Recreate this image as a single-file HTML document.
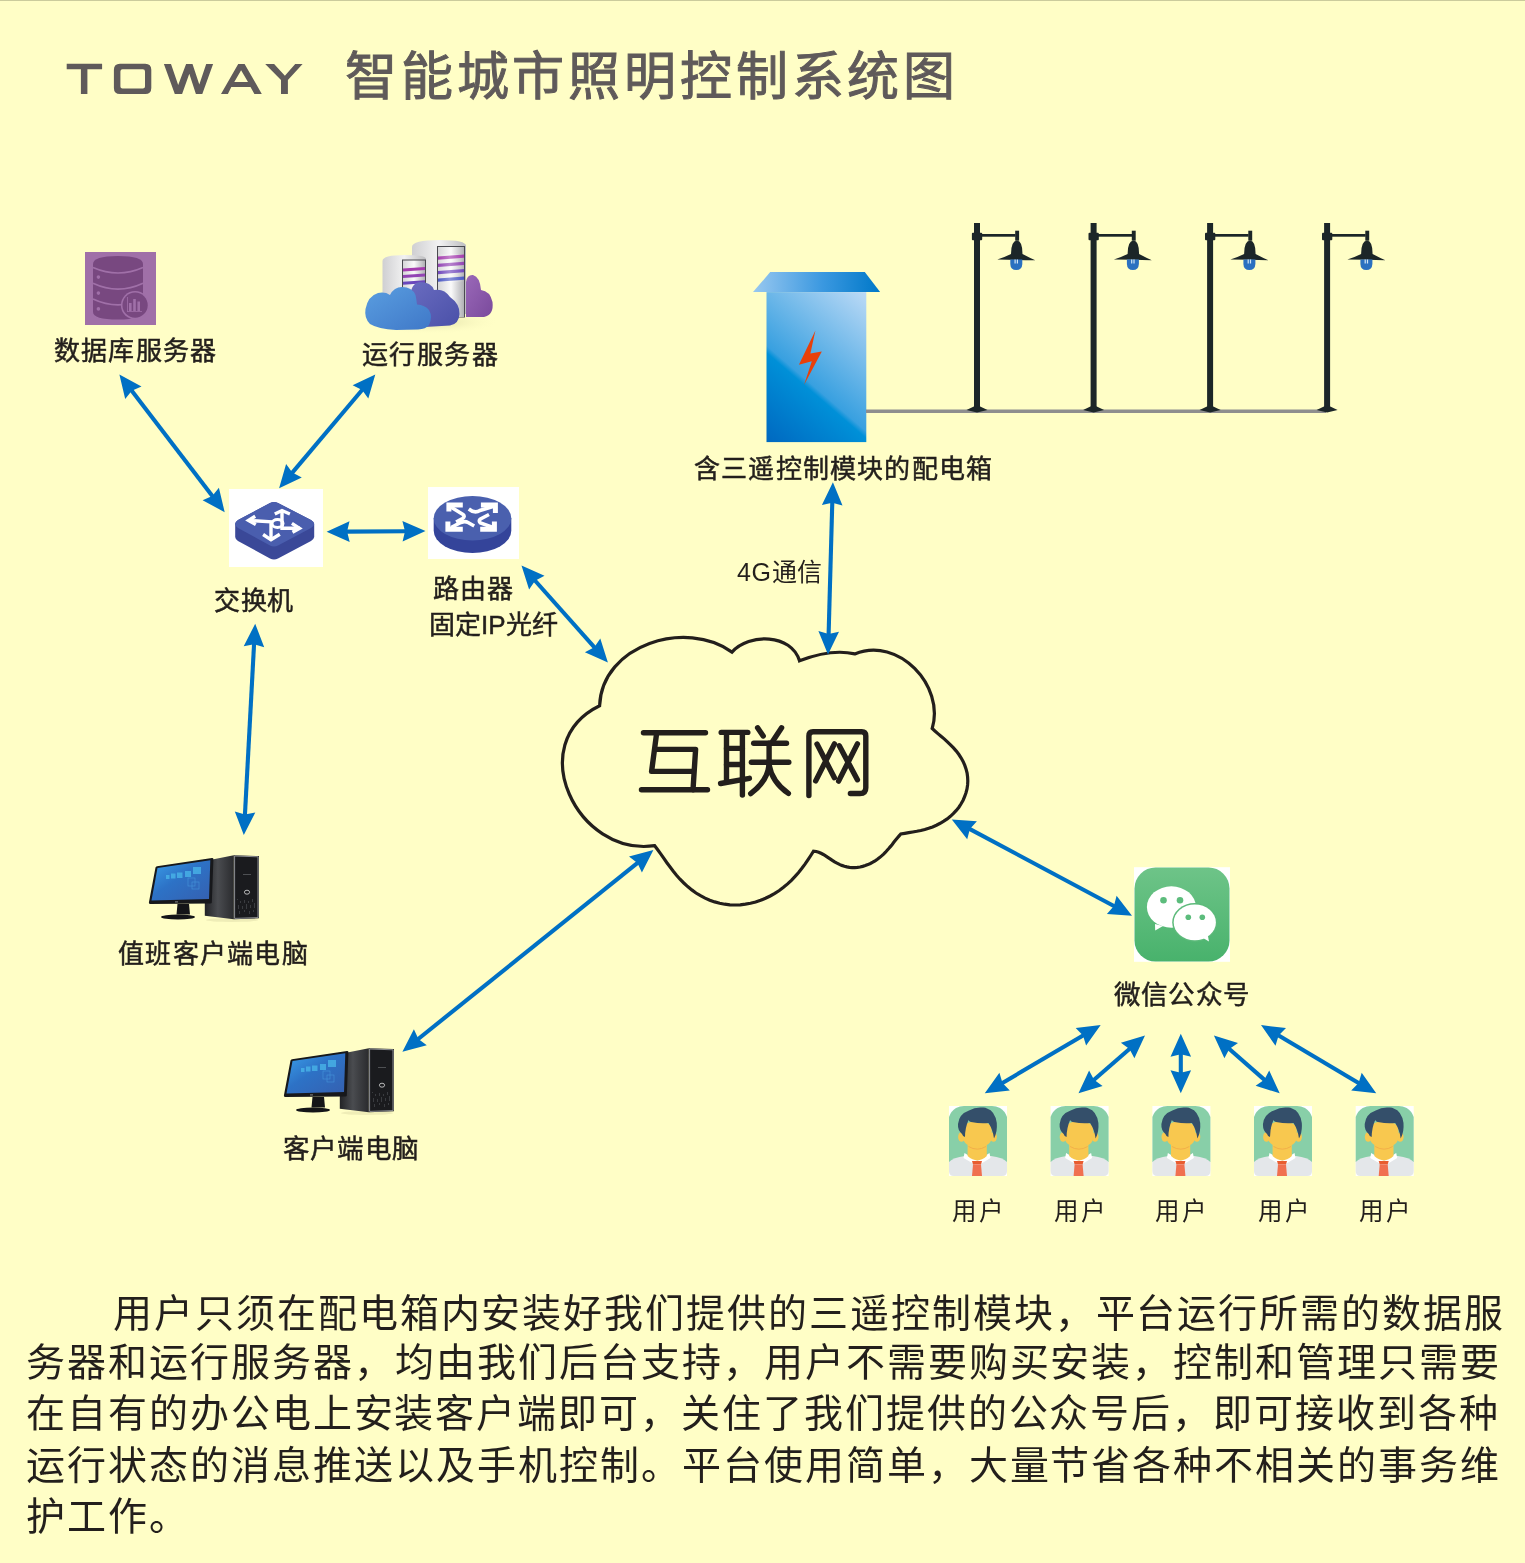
<!DOCTYPE html>
<html lang="zh-CN"><head><meta charset="utf-8"><title>TOWAY 智能城市照明控制系统图</title>
<style>
html,body{margin:0;padding:0;}
body{width:1525px;height:1563px;position:relative;overflow:hidden;background:#fffec6;font-family:"Liberation Sans",sans-serif;color:#231f1c;}
.t{position:absolute;white-space:nowrap;line-height:1;will-change:transform;}
svg{position:absolute;left:0;top:0;}
.topline{position:absolute;left:0;top:0;width:1525px;height:1px;background:#cbcb9c;}
</style></head><body>
<div class="topline"></div>
<svg width="1525" height="1563" viewBox="0 0 1525 1563">

<g fill="none" stroke="#231f1c" stroke-width="5.4" stroke-linecap="round" stroke-linejoin="round">
<path d="M643.5 732.8H705.5"/>
<path d="M656.6 733.5L651.6 771.4H693"/>
<path d="M656.6 749.4H695.6L693 789.8"/>
<path d="M641.5 789.8H707.5"/>
<path d="M721.2 732.4H747.8"/>
<path d="M726.5 734V780.6"/>
<path d="M742.4 734V795"/>
<path d="M726.5 748.4H742.4M726.5 764.5H742.4"/>
<path d="M720.6 783.5L749.4 778.3"/>
<path d="M757.6 727.8L763.2 736"/>
<path d="M781.6 727.8L772.7 741.2"/>
<path d="M753.7 743.2H786.5"/>
<path d="M751.4 762.2H788.8"/>
<path d="M769.1 743.2V762.2Q769 780 750.7 793.7"/>
<path d="M769.1 765Q772 782 788.4 793.4"/>
<path d="M808.9 795.5V736Q808.9 731.8 813 731.8H861.8Q865.8 731.8 865.8 736V787.7Q865.8 793.5 860 793.5H850.4"/>
<path d="M817 744.1L834.4 777.7M834.4 743.9L815.7 780.9"/>
<path d="M839.3 745.7L857.4 779.8M857.4 743.9L838.6 781.1"/>
</g>
<g fill="#5f5a5a">
<path d="M66.7 63.8H102.1V69.3H87.4V93.9H80.9V69.3H66.7Z"/>
<path fill-rule="evenodd" d="M120 63.8H145.2Q151.3 63.8 151.3 69.8V87.9Q151.3 93.9 145.2 93.9H120Q113.9 93.9 113.9 87.9V69.8Q113.9 63.8 120 63.8Z M122.5 69.3Q120.4 69.3 120.4 71.4V86.5Q120.4 88.6 122.5 88.6H142.9Q145 88.6 145 86.5V71.4Q145 69.3 142.9 69.3Z"/>
<path d="M163.9 64H171L178.2 85L186.1 64H192.5L199.3 84.5L206.2 64H213.1L202.3 93.9H195.9L189.3 73.7L182.1 93.9H174.8Z"/>
<path fill-rule="evenodd" d="M238.2 64H244.6L261.8 93.9H254.4L250.5 87H231.3L227.9 93.9H221Z M241.1 70.2L234.3 82H248Z"/>
<path d="M265.2 64H274.1L284.9 75.7L295.2 64H302.6L287.9 80.1V93.9H281V80.1Z"/>
</g>
<g transform="translate(85,252)">
<rect x="0" y="0" width="71" height="73" fill="#a070a8"/>
<g fill="#784880">
<path d="M8 12Q8 4 33 4Q58 4 58 12V60Q58 67.5 33 67.5Q8 67.5 8 60Z"/>
</g>
<g fill="none" stroke="#a070a8" stroke-width="1.6">
<path d="M8 15.5Q33 26.5 58 15.5"/>
<path d="M8 31.3Q33 43 58 31.3"/>
<path d="M8 47Q33 58.8 58 47"/>
</g>
<g fill="#a070a8"><circle cx="13.4" cy="25.1" r="1.8"/><circle cx="13.4" cy="41.1" r="1.8"/><circle cx="13.4" cy="56.9" r="1.8"/></g>
<circle cx="50.1" cy="53.2" r="14.2" fill="#a070a8"/>
<circle cx="50.1" cy="53.2" r="12.6" fill="#784880"/>
<g fill="#a070a8"><rect x="44" y="51" width="2.6" height="8"/><rect x="48.2" y="47" width="2.6" height="12"/><rect x="52.4" y="49.5" width="2.6" height="9.5"/><rect x="42" y="45" width="0.8" height="15"/><rect x="42" y="59.2" width="15" height="0.8"/></g>
</g>
<g>
<defs>
<linearGradient id="srvside" x1="0" x2="1" y1="0" y2="0"><stop offset="0" stop-color="#cfcfd2"/><stop offset="0.5" stop-color="#f2f2f2"/><stop offset="1" stop-color="#bdbdc0"/></linearGradient>
<linearGradient id="srvfront" x1="0" x2="1" y1="0" y2="0"><stop offset="0" stop-color="#d6d6d8"/><stop offset="0.5" stop-color="#fafafa"/><stop offset="1" stop-color="#b0b0b4"/></linearGradient>
<linearGradient id="stripehl" x1="0" x2="1"><stop offset="0" stop-color="#fff" stop-opacity="0"/><stop offset="0.45" stop-color="#fff" stop-opacity="0.35"/><stop offset="1" stop-color="#fff" stop-opacity="0"/></linearGradient>
<linearGradient id="cblue" x1="0" x2="1" y1="0" y2="1"><stop offset="0" stop-color="#5a9ee0"/><stop offset="1" stop-color="#3f78c8"/></linearGradient>
<linearGradient id="cindigo" x1="0" x2="1" y1="0" y2="1"><stop offset="0" stop-color="#6a6cc0"/><stop offset="1" stop-color="#4a50a8"/></linearGradient>
<linearGradient id="cpurple" x1="0" x2="1" y1="0" y2="1"><stop offset="0" stop-color="#9a68b8"/><stop offset="1" stop-color="#7a4a9c"/></linearGradient>
<radialGradient id="shadow" cx="0.5" cy="0.5" r="0.5"><stop offset="0" stop-color="#d8d6a0" stop-opacity="0.9"/><stop offset="1" stop-color="#fffec6" stop-opacity="0"/></radialGradient>
</defs>
<ellipse cx="430" cy="322" rx="70" ry="12" fill="url(#shadow)"/>
<!-- big server -->
<path d="M412 247Q412 240 440 240Q466 240 466 246V314Q440 318 412 316Z" fill="url(#srvside)"/>
<rect x="437" y="246" width="28" height="71.5" fill="#4a4a50"/>
<rect x="438" y="247" width="26" height="70" fill="url(#srvfront)"/>
<g><path d="M438 256.5L464 254.5V257.7L438 259.7Z" fill="#a43cae"/><path d="M438 263.8L464 261.8V265L438 267Z" fill="#9244b4"/><path d="M438 271.1L464 269.1V272.3L438 274.3Z" fill="#7048bc"/><path d="M438 278.5L464 276.5V279.7L438 281.7Z" fill="#4a58c4"/><rect x="438" y="254" width="26" height="28" fill="url(#stripehl)"/></g>
<!-- small server -->
<path d="M382.5 261Q382.5 255 405 255Q426 255 426 259V320H382.5Z" fill="url(#srvside)"/>
<rect x="402" y="259.5" width="24" height="61.5" fill="#4a4a50"/>
<rect x="403" y="260.5" width="22" height="60" fill="url(#srvfront)"/>
<g><path d="M403 268.5L425 267V270L403 271.5Z" fill="#a43cae"/><path d="M403 275L425 273.5V276.5L403 278Z" fill="#9244b4"/><path d="M403 281.8L425 280.3V283.3L403 284.8Z" fill="#6a48bc"/></g>
<!-- purple cloud -->
<path d="M466 317V282Q467 274.5 473 275Q480 277 481 290Q490 291 492.5 302Q494 315 484 317Z" fill="url(#cpurple)"/>
<!-- indigo cloud -->
<path d="M410 300Q410 283 420 282Q431 282 434 290Q444 288 450 297Q460 304 459.5 314Q459 324 450 325.5L425 327L412 320Z" fill="url(#cindigo)"/>
<!-- blue cloud -->
<path d="M370 324Q364 318 365.5 309Q368 296 378 293Q385 291.5 390 295Q394 287 402 287Q412 287 415.5 295Q416.5 300 417 304.5Q425 305 429 310Q433 317 429 325Q426 329 418 329.5L396 330Q378 329 370 324Z" fill="url(#cblue)"/>
</g>
<g transform="translate(229,489)">
<rect x="0" y="0" width="94" height="78" fill="#ffffff"/>
<path d="M6.2 35Q6 33 9 31L41 14Q45 12 49 14L82 31Q85.2 33 85.2 35V48Q85 50 82 52L49 69.5Q45 71.5 41 69.5L9 52Q6.2 50 6.2 48Z" fill="#3a4898"/>
<path d="M6.2 35Q6 33 9 31L41 14Q45 12 49 14L82 31Q85.2 33 85.2 35Q85 37 82 39L49 56.5Q45 58.5 41 56.5L9 39Q6.2 37 6.2 35Z" fill="#4a5eae"/>
<g stroke="#ffffff" stroke-width="3.4" fill="none" stroke-linejoin="miter">
<path d="M20 31.5L42 32.8V51"/>
<path d="M53 22V39.3H71"/>
<path d="M26.2 27.3L19.5 31.5L26.8 35.5"/>
<path d="M45.8 25L53 21.5L60.9 25"/>
<path d="M62.9 34.3L70.5 39.3L63.5 43.2"/>
<path d="M34.1 45.5L42 50.8L50.8 45.2"/>
</g>
<ellipse cx="48.5" cy="34.5" rx="5.5" ry="4" fill="none" stroke="#ffffff" stroke-width="3"/>
</g>
<g transform="translate(428,487)">
<rect x="0" y="0" width="91" height="72" fill="#ffffff"/>
<path d="M5.7 31.3V43.7A38.8 22.2 0 0 0 83.3 43.7V31.3Z" fill="#34449a"/>
<ellipse cx="44.5" cy="31.3" rx="38.8" ry="22.2" fill="#4a60ae"/>
<g fill="#ffffff">
<path d="M18.4 15.4H34.8V20.4H23.4V24.4H18.4Z"/>
<path d="M69.9 15.4H52.9V20.4H64.9V26.1H69.9Z"/>
<path d="M17.4 44.8H34.8V39.8H22.4V34.5H17.4Z"/>
<path d="M68.9 44.8H52.2V39.8H63.9V34.5H68.9Z"/>
</g>
<g fill="none" stroke="#ffffff" stroke-width="3.6" stroke-linecap="butt">
<path d="M22 19.5L35 27.5Q37.5 29.5 34.5 31.5L28.1 35"/>
<path d="M40.8 22Q46.8 27 52 23.5L65 19.5"/>
<path d="M23 40.5L33 35.5Q37 33.8 40 35.5L46.2 39"/>
<path d="M61 27.5L52.5 32Q50 34 52.5 36L65 40.5"/>
</g>
</g>
<g>
<defs>
<linearGradient id="roof" x1="0" x2="1" y1="0" y2="0"><stop offset="0" stop-color="#98c8f0"/><stop offset="0.55" stop-color="#3a98e0"/><stop offset="1" stop-color="#0078c8"/></linearGradient>
<linearGradient id="boxg" gradientUnits="userSpaceOnUse" x1="770.6" y1="445.8" x2="887.2" y2="310.2"><stop offset="0" stop-color="#0068c0"/><stop offset="0.38" stop-color="#0090d8"/><stop offset="0.41" stop-color="#38a0e0"/><stop offset="1" stop-color="#bcdaf6"/></linearGradient>
</defs>
<path d="M770.2 272.1H864.8L880.1 292.1H753Z" fill="url(#roof)"/>
<rect x="766.5" y="292.1" width="99.8" height="150" fill="url(#boxg)"/>
<path d="M815.4 330.4L798.9 364.8L811.8 361.3L804 385.1L821.8 351.5L810.4 353.6Z" fill="#e8400a"/>
</g>
<rect x="866" y="409.5" width="460" height="3.5" fill="#8e8e8e"/>
<g transform="translate(0,0)" fill="#1c2628">
<rect x="974" y="223" width="6" height="185"/>
<rect x="971.9" y="232.7" width="10.3" height="7.5" rx="1"/>
<rect x="981" y="234" width="34.5" height="2.7"/>
<rect x="1015.2" y="230.7" width="3.9" height="10"/>
<path d="M1011 254Q1011 241 1017 240.5Q1022.5 241 1022.5 254Q1030 258 1035.3 260.2Q1017 260 997.3 259.6Q1005 257 1011 254Z"/>
<path d="M966.5 410L977 405L987.5 410L977 412.5Z"/>
</g>
<g transform="translate(0,0)"><path d="M1010.3 259.5H1022.3V264Q1022 270 1016.3 270Q1010.5 270 1010.3 264Z" fill="#2a70c0"/><rect x="1014.5" y="259.5" width="1.2" height="4" fill="#d0e4f4"/><rect x="1016.8" y="259.5" width="1.2" height="4" fill="#d0e4f4"/></g>
<g transform="translate(116.6,0)" fill="#1c2628">
<rect x="974" y="223" width="6" height="185"/>
<rect x="971.9" y="232.7" width="10.3" height="7.5" rx="1"/>
<rect x="981" y="234" width="34.5" height="2.7"/>
<rect x="1015.2" y="230.7" width="3.9" height="10"/>
<path d="M1011 254Q1011 241 1017 240.5Q1022.5 241 1022.5 254Q1030 258 1035.3 260.2Q1017 260 997.3 259.6Q1005 257 1011 254Z"/>
<path d="M966.5 410L977 405L987.5 410L977 412.5Z"/>
</g>
<g transform="translate(116.6,0)"><path d="M1010.3 259.5H1022.3V264Q1022 270 1016.3 270Q1010.5 270 1010.3 264Z" fill="#2a70c0"/><rect x="1014.5" y="259.5" width="1.2" height="4" fill="#d0e4f4"/><rect x="1016.8" y="259.5" width="1.2" height="4" fill="#d0e4f4"/></g>
<g transform="translate(233.1,0)" fill="#1c2628">
<rect x="974" y="223" width="6" height="185"/>
<rect x="971.9" y="232.7" width="10.3" height="7.5" rx="1"/>
<rect x="981" y="234" width="34.5" height="2.7"/>
<rect x="1015.2" y="230.7" width="3.9" height="10"/>
<path d="M1011 254Q1011 241 1017 240.5Q1022.5 241 1022.5 254Q1030 258 1035.3 260.2Q1017 260 997.3 259.6Q1005 257 1011 254Z"/>
<path d="M966.5 410L977 405L987.5 410L977 412.5Z"/>
</g>
<g transform="translate(233.1,0)"><path d="M1010.3 259.5H1022.3V264Q1022 270 1016.3 270Q1010.5 270 1010.3 264Z" fill="#2a70c0"/><rect x="1014.5" y="259.5" width="1.2" height="4" fill="#d0e4f4"/><rect x="1016.8" y="259.5" width="1.2" height="4" fill="#d0e4f4"/></g>
<g transform="translate(350.1,0)" fill="#1c2628">
<rect x="974" y="223" width="6" height="185"/>
<rect x="971.9" y="232.7" width="10.3" height="7.5" rx="1"/>
<rect x="981" y="234" width="34.5" height="2.7"/>
<rect x="1015.2" y="230.7" width="3.9" height="10"/>
<path d="M1011 254Q1011 241 1017 240.5Q1022.5 241 1022.5 254Q1030 258 1035.3 260.2Q1017 260 997.3 259.6Q1005 257 1011 254Z"/>
<path d="M966.5 410L977 405L987.5 410L977 412.5Z"/>
</g>
<g transform="translate(350.1,0)"><path d="M1010.3 259.5H1022.3V264Q1022 270 1016.3 270Q1010.5 270 1010.3 264Z" fill="#2a70c0"/><rect x="1014.5" y="259.5" width="1.2" height="4" fill="#d0e4f4"/><rect x="1016.8" y="259.5" width="1.2" height="4" fill="#d0e4f4"/></g>
<g transform="translate(140,845)">
<defs><linearGradient id="scr140" x1="0" y1="0" x2="1" y2="1"><stop offset="0" stop-color="#3aa0ea"/><stop offset="0.45" stop-color="#2d72c6"/><stop offset="1" stop-color="#3560b0"/></linearGradient>
<linearGradient id="side140" x1="0" x2="1"><stop offset="0" stop-color="#222326"/><stop offset="0.45" stop-color="#4a4c50"/><stop offset="1" stop-color="#2a2b2e"/></linearGradient></defs>
<ellipse cx="92" cy="75" rx="26" ry="2" fill="#e8e6b0" opacity="0.7"/>
<path d="M64.8 70.8V16L93.8 10.2V74.2Z" fill="url(#side140)"/>
<path d="M93.8 10.2L118.9 11.1V73.3L93.8 74.2Z" fill="#1a1b1e"/>
<path d="M94.6 11L118 11.8V72.6L94.6 73.4Z" fill="none" stroke="#9a9ca0" stroke-width="0.9"/>
<rect x="103" y="29" width="8" height="0.9" fill="#55575a"/>
<ellipse cx="107" cy="47.2" rx="2.6" ry="2" fill="none" stroke="#c8c8c8" stroke-width="0.9"/>
<g fill="#3a3c40"><rect x="97" y="54" width="1" height="1"/><rect x="100" y="56" width="1" height="2"/><rect x="104" y="55" width="1" height="3"/><rect x="108" y="56" width="1" height="2"/><rect x="112" y="54" width="1" height="3"/><rect x="98" y="60" width="1" height="4"/><rect x="102" y="61" width="1" height="3"/><rect x="106" y="59" width="1" height="5"/><rect x="110" y="60" width="1" height="3"/><rect x="114" y="58" width="1" height="5"/><rect x="99" y="66" width="1" height="3"/><rect x="104" y="65" width="1" height="2"/><rect x="109" y="66" width="1" height="3"/><rect x="113" y="65" width="1" height="2"/></g>
<path d="M17 21.2L72 12.9Q73.5 12.8 73.4 14.3L71.8 57.5Q71.7 58.5 70.5 58.5L10 58.9Q8.7 58.9 8.9 57.6L15.5 22.6Q15.8 21.4 17 21.2Z" fill="#17181b"/>
<path d="M17.5 23L70.3 15.3L69 54.1L11.5 55.4Z" fill="url(#scr140)"/>
<g fill="#4ab8ea" opacity="0.75"><rect x="26" y="30" width="3.5" height="4"/><rect x="31" y="28.5" width="4.5" height="5"/><rect x="37" y="27.5" width="5.5" height="5.5"/><rect x="45" y="26" width="6" height="6"/><rect x="53" y="22" width="8" height="7"/></g>
<g fill="none" stroke="#4a9ee0" stroke-width="0.6" opacity="0.8"><rect x="48" y="33" width="7" height="8"/><rect x="52" y="37" width="7" height="7"/></g>
<rect x="35" y="56.3" width="3" height="1.2" fill="#777"/>
<path d="M37.5 58.9H49L50 69.5H36.5Z" fill="#141518"/>
<ellipse cx="38" cy="72" rx="17" ry="2.6" fill="#141518"/>
</g>
<g transform="translate(275,1038)">
<defs><linearGradient id="scr275" x1="0" y1="0" x2="1" y2="1"><stop offset="0" stop-color="#3aa0ea"/><stop offset="0.45" stop-color="#2d72c6"/><stop offset="1" stop-color="#3560b0"/></linearGradient>
<linearGradient id="side275" x1="0" x2="1"><stop offset="0" stop-color="#222326"/><stop offset="0.45" stop-color="#4a4c50"/><stop offset="1" stop-color="#2a2b2e"/></linearGradient></defs>
<ellipse cx="92" cy="75" rx="26" ry="2" fill="#e8e6b0" opacity="0.7"/>
<path d="M64.8 70.8V16L93.8 10.2V74.2Z" fill="url(#side275)"/>
<path d="M93.8 10.2L118.9 11.1V73.3L93.8 74.2Z" fill="#1a1b1e"/>
<path d="M94.6 11L118 11.8V72.6L94.6 73.4Z" fill="none" stroke="#9a9ca0" stroke-width="0.9"/>
<rect x="103" y="29" width="8" height="0.9" fill="#55575a"/>
<ellipse cx="107" cy="47.2" rx="2.6" ry="2" fill="none" stroke="#c8c8c8" stroke-width="0.9"/>
<g fill="#3a3c40"><rect x="97" y="54" width="1" height="1"/><rect x="100" y="56" width="1" height="2"/><rect x="104" y="55" width="1" height="3"/><rect x="108" y="56" width="1" height="2"/><rect x="112" y="54" width="1" height="3"/><rect x="98" y="60" width="1" height="4"/><rect x="102" y="61" width="1" height="3"/><rect x="106" y="59" width="1" height="5"/><rect x="110" y="60" width="1" height="3"/><rect x="114" y="58" width="1" height="5"/><rect x="99" y="66" width="1" height="3"/><rect x="104" y="65" width="1" height="2"/><rect x="109" y="66" width="1" height="3"/><rect x="113" y="65" width="1" height="2"/></g>
<path d="M17 21.2L72 12.9Q73.5 12.8 73.4 14.3L71.8 57.5Q71.7 58.5 70.5 58.5L10 58.9Q8.7 58.9 8.9 57.6L15.5 22.6Q15.8 21.4 17 21.2Z" fill="#17181b"/>
<path d="M17.5 23L70.3 15.3L69 54.1L11.5 55.4Z" fill="url(#scr275)"/>
<g fill="#4ab8ea" opacity="0.75"><rect x="26" y="30" width="3.5" height="4"/><rect x="31" y="28.5" width="4.5" height="5"/><rect x="37" y="27.5" width="5.5" height="5.5"/><rect x="45" y="26" width="6" height="6"/><rect x="53" y="22" width="8" height="7"/></g>
<g fill="none" stroke="#4a9ee0" stroke-width="0.6" opacity="0.8"><rect x="48" y="33" width="7" height="8"/><rect x="52" y="37" width="7" height="7"/></g>
<rect x="35" y="56.3" width="3" height="1.2" fill="#777"/>
<path d="M37.5 58.9H49L50 69.5H36.5Z" fill="#141518"/>
<ellipse cx="38" cy="72" rx="17" ry="2.6" fill="#141518"/>
</g>
<g>
<defs><linearGradient id="wg" x1="0" y1="0" x2="0" y2="1"><stop offset="0" stop-color="#6ec488"/><stop offset="1" stop-color="#48b26c"/></linearGradient></defs>
<rect x="1134" y="867.2" width="96" height="94.6" fill="#ffffff"/>
<rect x="1134.5" y="867.5" width="95" height="94" rx="21" fill="url(#wg)"/>
<g fill="#ffffff">
<ellipse cx="1171.4" cy="907" rx="24.5" ry="20.7"/>
<path d="M1155 924L1155.2 930.5L1163 926Z"/>
</g>
<ellipse cx="1194.8" cy="922.4" rx="22.6" ry="19.4" fill="#5cba7a"/>
<g fill="#ffffff">
<ellipse cx="1194.8" cy="922.4" rx="21.1" ry="17.9"/>
<path d="M1203 938L1209 941.4L1207.5 934Z"/>
</g>
<g fill="#5cbc7c"><circle cx="1163.5" cy="900.3" r="3.3"/><circle cx="1180" cy="900.3" r="3.3"/><circle cx="1188.3" cy="917.3" r="2.8"/><circle cx="1202.3" cy="917.3" r="2.8"/></g>
</g>
<g transform="translate(949,1106)">
<rect x="0" y="0" width="58" height="70" fill="#ffffff"/>
<path d="M0 11Q2 5 7 2Q11 0 15 0H43Q47 0 51 2Q56 5 58 11V56H0Z" fill="#88cfa8"/>
<path d="M0 56Q4 51.5 16 50H42Q54 51.5 58 56V65Q58 70 53 70H5Q0 70 0 65Z" fill="#e4e7ea"/>
<path d="M15.5 47L28.4 55L40.5 47L41.5 52L28.4 60L14.5 52Z" fill="#ffffff"/>
<path d="M18.6 38H37.8V50Q33 54.4 28.4 54.4Q23.5 54.4 18.6 50Z" fill="#f8c84f"/>
<path d="M19.5 40.5Q28.4 45.8 37 40.5" stroke="#f0a848" stroke-width="0.8" fill="none"/>
<ellipse cx="12.5" cy="31" rx="3.4" ry="4.8" fill="#f8c84f"/>
<ellipse cx="44.5" cy="31" rx="3.4" ry="4.8" fill="#f8c84f"/>
<path d="M14 24Q14 15.5 28.4 15.5Q42.7 15.5 42.7 24V31Q42.7 40 28.4 41.5Q14 40 14 31Z" fill="#f8c84f"/>
<path d="M9 18Q10 8 20 4.5Q26 1 33 1.5Q36 1 38 2.5Q46 5 47.8 17Q48.5 26 45 32.5Q44 24 39.5 17Q32 18 22 16Q20 15.5 19.5 14Q16 22 16 31Q14 31 13 28Q8.5 24 9 18Z" fill="#344f6a"/>
<path d="M23 55H33L32 58.5H24Z" fill="#e85c30"/>
<path d="M24 58.5H32L33 70H23Z" fill="#f07050"/>
</g>
<g transform="translate(1050.6,1106)">
<rect x="0" y="0" width="58" height="70" fill="#ffffff"/>
<path d="M0 11Q2 5 7 2Q11 0 15 0H43Q47 0 51 2Q56 5 58 11V56H0Z" fill="#88cfa8"/>
<path d="M0 56Q4 51.5 16 50H42Q54 51.5 58 56V65Q58 70 53 70H5Q0 70 0 65Z" fill="#e4e7ea"/>
<path d="M15.5 47L28.4 55L40.5 47L41.5 52L28.4 60L14.5 52Z" fill="#ffffff"/>
<path d="M18.6 38H37.8V50Q33 54.4 28.4 54.4Q23.5 54.4 18.6 50Z" fill="#f8c84f"/>
<path d="M19.5 40.5Q28.4 45.8 37 40.5" stroke="#f0a848" stroke-width="0.8" fill="none"/>
<ellipse cx="12.5" cy="31" rx="3.4" ry="4.8" fill="#f8c84f"/>
<ellipse cx="44.5" cy="31" rx="3.4" ry="4.8" fill="#f8c84f"/>
<path d="M14 24Q14 15.5 28.4 15.5Q42.7 15.5 42.7 24V31Q42.7 40 28.4 41.5Q14 40 14 31Z" fill="#f8c84f"/>
<path d="M9 18Q10 8 20 4.5Q26 1 33 1.5Q36 1 38 2.5Q46 5 47.8 17Q48.5 26 45 32.5Q44 24 39.5 17Q32 18 22 16Q20 15.5 19.5 14Q16 22 16 31Q14 31 13 28Q8.5 24 9 18Z" fill="#344f6a"/>
<path d="M23 55H33L32 58.5H24Z" fill="#e85c30"/>
<path d="M24 58.5H32L33 70H23Z" fill="#f07050"/>
</g>
<g transform="translate(1152.4,1106)">
<rect x="0" y="0" width="58" height="70" fill="#ffffff"/>
<path d="M0 11Q2 5 7 2Q11 0 15 0H43Q47 0 51 2Q56 5 58 11V56H0Z" fill="#88cfa8"/>
<path d="M0 56Q4 51.5 16 50H42Q54 51.5 58 56V65Q58 70 53 70H5Q0 70 0 65Z" fill="#e4e7ea"/>
<path d="M15.5 47L28.4 55L40.5 47L41.5 52L28.4 60L14.5 52Z" fill="#ffffff"/>
<path d="M18.6 38H37.8V50Q33 54.4 28.4 54.4Q23.5 54.4 18.6 50Z" fill="#f8c84f"/>
<path d="M19.5 40.5Q28.4 45.8 37 40.5" stroke="#f0a848" stroke-width="0.8" fill="none"/>
<ellipse cx="12.5" cy="31" rx="3.4" ry="4.8" fill="#f8c84f"/>
<ellipse cx="44.5" cy="31" rx="3.4" ry="4.8" fill="#f8c84f"/>
<path d="M14 24Q14 15.5 28.4 15.5Q42.7 15.5 42.7 24V31Q42.7 40 28.4 41.5Q14 40 14 31Z" fill="#f8c84f"/>
<path d="M9 18Q10 8 20 4.5Q26 1 33 1.5Q36 1 38 2.5Q46 5 47.8 17Q48.5 26 45 32.5Q44 24 39.5 17Q32 18 22 16Q20 15.5 19.5 14Q16 22 16 31Q14 31 13 28Q8.5 24 9 18Z" fill="#344f6a"/>
<path d="M23 55H33L32 58.5H24Z" fill="#e85c30"/>
<path d="M24 58.5H32L33 70H23Z" fill="#f07050"/>
</g>
<g transform="translate(1254,1106)">
<rect x="0" y="0" width="58" height="70" fill="#ffffff"/>
<path d="M0 11Q2 5 7 2Q11 0 15 0H43Q47 0 51 2Q56 5 58 11V56H0Z" fill="#88cfa8"/>
<path d="M0 56Q4 51.5 16 50H42Q54 51.5 58 56V65Q58 70 53 70H5Q0 70 0 65Z" fill="#e4e7ea"/>
<path d="M15.5 47L28.4 55L40.5 47L41.5 52L28.4 60L14.5 52Z" fill="#ffffff"/>
<path d="M18.6 38H37.8V50Q33 54.4 28.4 54.4Q23.5 54.4 18.6 50Z" fill="#f8c84f"/>
<path d="M19.5 40.5Q28.4 45.8 37 40.5" stroke="#f0a848" stroke-width="0.8" fill="none"/>
<ellipse cx="12.5" cy="31" rx="3.4" ry="4.8" fill="#f8c84f"/>
<ellipse cx="44.5" cy="31" rx="3.4" ry="4.8" fill="#f8c84f"/>
<path d="M14 24Q14 15.5 28.4 15.5Q42.7 15.5 42.7 24V31Q42.7 40 28.4 41.5Q14 40 14 31Z" fill="#f8c84f"/>
<path d="M9 18Q10 8 20 4.5Q26 1 33 1.5Q36 1 38 2.5Q46 5 47.8 17Q48.5 26 45 32.5Q44 24 39.5 17Q32 18 22 16Q20 15.5 19.5 14Q16 22 16 31Q14 31 13 28Q8.5 24 9 18Z" fill="#344f6a"/>
<path d="M23 55H33L32 58.5H24Z" fill="#e85c30"/>
<path d="M24 58.5H32L33 70H23Z" fill="#f07050"/>
</g>
<g transform="translate(1355.7,1106)">
<rect x="0" y="0" width="58" height="70" fill="#ffffff"/>
<path d="M0 11Q2 5 7 2Q11 0 15 0H43Q47 0 51 2Q56 5 58 11V56H0Z" fill="#88cfa8"/>
<path d="M0 56Q4 51.5 16 50H42Q54 51.5 58 56V65Q58 70 53 70H5Q0 70 0 65Z" fill="#e4e7ea"/>
<path d="M15.5 47L28.4 55L40.5 47L41.5 52L28.4 60L14.5 52Z" fill="#ffffff"/>
<path d="M18.6 38H37.8V50Q33 54.4 28.4 54.4Q23.5 54.4 18.6 50Z" fill="#f8c84f"/>
<path d="M19.5 40.5Q28.4 45.8 37 40.5" stroke="#f0a848" stroke-width="0.8" fill="none"/>
<ellipse cx="12.5" cy="31" rx="3.4" ry="4.8" fill="#f8c84f"/>
<ellipse cx="44.5" cy="31" rx="3.4" ry="4.8" fill="#f8c84f"/>
<path d="M14 24Q14 15.5 28.4 15.5Q42.7 15.5 42.7 24V31Q42.7 40 28.4 41.5Q14 40 14 31Z" fill="#f8c84f"/>
<path d="M9 18Q10 8 20 4.5Q26 1 33 1.5Q36 1 38 2.5Q46 5 47.8 17Q48.5 26 45 32.5Q44 24 39.5 17Q32 18 22 16Q20 15.5 19.5 14Q16 22 16 31Q14 31 13 28Q8.5 24 9 18Z" fill="#344f6a"/>
<path d="M23 55H33L32 58.5H24Z" fill="#e85c30"/>
<path d="M24 58.5H32L33 70H23Z" fill="#f07050"/>
</g>
<path d="M599.6 705.7 C601.9 644.6 686.3 618.9 732 652.1 C749.2 633.1 791.4 633.4 799.5 660.8 C816.9 654.1 836.2 649.6 854.8 653.9 C898.3 635.9 945.1 685.7 932.2 728.5 L934.9 731 L937.9 733.6 L941 736.2 L944.2 738.9 L947.4 741.8 L950.5 744.8 L953.5 747.9 L956.3 751.1 L958.9 754.5 L961.2 758 L963.2 761.6 L964.8 765.4 L966.1 769.2 L967.1 773.1 L967.6 777 L967.8 781 L967.6 784.9 L967 788.9 L966 792.7 L964.7 796.5 L963.1 800.2 L961.1 803.8 L958.9 807.2 L956.3 810.4 L953.5 813.4 L950.4 816.3 L947.2 818.9 L943.8 821.2 L940.2 823.3 L936.4 825.2 L932.6 826.9 L928.7 828.3 L924.8 829.5 L920.8 830.5 L916.8 831.3 L912.7 832 L908.7 832.7 L904.8 833.3 L900.8 833.9 L898.9 836.1 L897.1 838.2 L895.4 840.3 L893.8 842.3 L892.2 844.4 L890.6 846.4 L889 848.3 L887.2 850.3 L885.5 852.2 L883.6 854.1 L881.6 855.9 L879.6 857.6 L877.4 859.3 L875.1 860.8 L872.8 862.2 L870.4 863.5 L867.9 864.6 L865.3 865.6 L862.7 866.4 L860.1 867 L857.4 867.4 L854.8 867.6 L852.1 867.6 L849.5 867.3 L846.9 866.9 L844.4 866.2 L841.8 865.4 L839.4 864.4 L837 863.2 L834.6 861.9 L832.3 860.4 L830.1 858.9 L827.8 857.4 L825.6 855.9 L823.3 854.5 L821 853.3 L818.7 852.2 L816.2 851.5 L813.5 851.2 L810.8 855.5 L807.9 859.9 L805 864.1 L801.9 868.3 L798.6 872.5 L795.1 876.4 L791.4 880.3 L787.6 883.9 L783.5 887.3 L779.3 890.5 L774.8 893.4 L770.2 896 L765.5 898.3 L760.6 900.3 L755.6 902 L750.5 903.3 L745.4 904.2 L740.2 904.8 L735 905 L729.9 904.8 L724.7 904.2 L719.7 903.3 L714.7 901.9 L709.8 900.2 L705.1 898.1 L700.5 895.7 L696 893 L691.8 889.9 L687.7 886.6 L683.8 883 L680 879.2 L676.5 875.2 L673.1 871 L669.9 866.8 L666.7 862.5 L663.7 858.1 L660.7 853.9 L657.7 849.7 L654.7 845.7 C577.2 856.8 522.7 743.4 599.6 705.7 Z" fill="none" stroke="#231f1c" stroke-width="3.2" stroke-linejoin="miter"/>
<g fill="#0070c4">
<line x1="131.2" y1="389.9" x2="212.9" y2="496.7" stroke="#0070c4" stroke-width="4.1"/>
<polygon points="224.7,512.2 202.6,500.2 212.3,495.9 218.9,487.7"/>
<polygon points="119.4,374.4 141.5,386.4 131.8,390.7 125.2,398.9"/>
<line x1="362.7" y1="389.3" x2="291.7" y2="473.4" stroke="#0070c4" stroke-width="4.1"/>
<polygon points="279.1,488.3 286.1,464.1 292.3,472.6 301.8,477.4"/>
<polygon points="375.3,374.4 368.3,398.6 362.1,390.1 352.6,385.3"/>
<line x1="346.1" y1="531.6" x2="406" y2="531.2" stroke="#0070c4" stroke-width="4.1"/>
<polygon points="425.5,531 402.6,541.5 405,531.2 402.4,520.9"/>
<polygon points="326.6,531.8 349.5,521.3 347.1,531.6 349.7,541.9"/>
<line x1="254.1" y1="643.3" x2="244.9" y2="815.4" stroke="#0070c4" stroke-width="4.1"/>
<polygon points="243.8,834.9 234.8,811.4 244.9,814.4 255.3,812.5"/>
<polygon points="255.2,623.8 264.2,647.3 254.1,644.3 243.7,646.2"/>
<line x1="534.5" y1="580" x2="594.9" y2="647.9" stroke="#0070c4" stroke-width="4.1"/>
<polygon points="607.9,662.5 584.9,652.2 594.3,647.2 600.3,638.5"/>
<polygon points="521.5,565.4 544.5,575.7 535.1,580.7 529.1,589.4"/>
<line x1="832.3" y1="501.7" x2="828.6" y2="634.9" stroke="#0070c4" stroke-width="4.1"/>
<polygon points="828,654.4 818.4,631.1 828.6,633.9 839,631.7"/>
<polygon points="832.9,482.2 842.5,505.5 832.3,502.7 821.9,504.9"/>
<line x1="638.2" y1="862.3" x2="417.6" y2="1039.5" stroke="#0070c4" stroke-width="4.1"/>
<polygon points="402.4,1051.7 413.9,1029.3 418.4,1038.9 426.8,1045.3"/>
<polygon points="653.4,850.1 641.9,872.5 637.4,862.9 629,856.5"/>
<line x1="969" y1="828.6" x2="1114.8" y2="906.5" stroke="#0070c4" stroke-width="4.1"/>
<polygon points="1132,915.7 1106.9,913.9 1113.9,906 1116.6,895.8"/>
<polygon points="951.8,819.4 976.9,821.2 969.9,829.1 967.2,839.3"/>
<line x1="1083.9" y1="1035" x2="1001.6" y2="1083.4" stroke="#0070c4" stroke-width="4.1"/>
<polygon points="984.8,1093.3 999.4,1072.8 1002.5,1082.9 1009.8,1090.5"/>
<polygon points="1100.7,1025.1 1086.1,1045.6 1083,1035.5 1075.7,1027.9"/>
<line x1="1130.3" y1="1048.2" x2="1093.2" y2="1080.5" stroke="#0070c4" stroke-width="4.1"/>
<polygon points="1078.5,1093.3 1089.1,1070.4 1094,1079.8 1102.6,1086"/>
<polygon points="1145,1035.4 1134.4,1058.3 1129.5,1048.9 1120.9,1042.7"/>
<line x1="1180.8" y1="1053.2" x2="1180.8" y2="1073.8" stroke="#0070c4" stroke-width="4.1"/>
<polygon points="1180.8,1093.3 1170.5,1070.3 1180.8,1072.8 1191.1,1070.3"/>
<polygon points="1180.8,1033.7 1191.1,1056.7 1180.8,1054.2 1170.5,1056.7"/>
<line x1="1228.5" y1="1048.3" x2="1265.1" y2="1080.4" stroke="#0070c4" stroke-width="4.1"/>
<polygon points="1279.7,1093.3 1255.6,1085.8 1264.3,1079.8 1269.2,1070.4"/>
<polygon points="1213.9,1035.4 1238,1042.9 1229.3,1048.9 1224.4,1058.3"/>
<line x1="1277.8" y1="1035" x2="1359.4" y2="1083.4" stroke="#0070c4" stroke-width="4.1"/>
<polygon points="1376.2,1093.3 1351.2,1090.4 1358.6,1082.9 1361.7,1072.7"/>
<polygon points="1261,1025.1 1286,1028 1278.6,1035.5 1275.5,1045.7"/>
</g>
</svg>
<div class="t" id="title" style="left:345.1px;top:50.7px;font-size:52px;letter-spacing:3.83px;font-weight:400;color:#5f5a5a;-webkit-text-stroke:1.0px #5f5a5a;">智能城市照明控制系统图</div>
<div class="t" id="db" style="left:54.0px;top:337.5px;font-size:26px;letter-spacing:1.17px;font-weight:400;-webkit-text-stroke:0.5px #231f1c;">数据库服务器</div>
<div class="t" id="srv" style="left:362.2px;top:342.2px;font-size:26px;letter-spacing:1.46px;font-weight:400;-webkit-text-stroke:0.5px #231f1c;">运行服务器</div>
<div class="t" id="sw" style="left:213.9px;top:587.8px;font-size:26px;letter-spacing:0.54px;font-weight:400;-webkit-text-stroke:0.5px #231f1c;">交换机</div>
<div class="t" id="rt" style="left:433.1px;top:576.1px;font-size:26px;letter-spacing:1.05px;font-weight:400;-webkit-text-stroke:0.5px #231f1c;">路由器</div>
<div class="t" id="ip" style="left:429.4px;top:612.3px;font-size:26px;font-weight:400;-webkit-text-stroke:0.5px #231f1c;">固定IP光纤</div>
<div class="t" id="box" style="left:693.7px;top:455.5px;font-size:26px;letter-spacing:1.19px;font-weight:400;-webkit-text-stroke:0.5px #231f1c;">含三遥控制模块的配电箱</div>
<div class="t" id="g4" style="left:736.7px;top:559.5px;font-size:25px;letter-spacing:0.71px;font-weight:400;">4G通信</div>
<div class="t" id="pc1" style="left:117.7px;top:941.2px;font-size:26px;letter-spacing:1.29px;font-weight:400;-webkit-text-stroke:0.5px #231f1c;">值班客户端电脑</div>
<div class="t" id="pc2" style="left:282.8px;top:1136.0px;font-size:26.5px;letter-spacing:1.23px;font-weight:400;-webkit-text-stroke:0.5px #231f1c;">客户端电脑</div>
<div class="t" id="wx" style="left:1113.9px;top:982.3px;font-size:26.5px;letter-spacing:1.24px;font-weight:400;-webkit-text-stroke:0.5px #231f1c;">微信公众号</div>
<div class="t" id="u1" style="left:952.4px;top:1199.7px;font-size:24.5px;letter-spacing:2.8px;font-weight:400;">用户</div>
<div class="t" id="u2" style="left:1053.8px;top:1199.7px;font-size:24.5px;letter-spacing:2.8px;font-weight:400;">用户</div>
<div class="t" id="u3" style="left:1155.2px;top:1199.7px;font-size:24.5px;letter-spacing:2.8px;font-weight:400;">用户</div>
<div class="t" id="u4" style="left:1257.6px;top:1199.7px;font-size:24.5px;letter-spacing:2.8px;font-weight:400;">用户</div>
<div class="t" id="u5" style="left:1359.0px;top:1199.7px;font-size:24.5px;letter-spacing:2.8px;font-weight:400;">用户</div>
<div class="t" id="p1" style="left:112.9px;top:1294.4px;font-size:39px;letter-spacing:1.94px;font-weight:400;">用户只须在配电箱内安装好我们提供的三遥控制模块，平台运行所需的数据服</div>
<div class="t" id="p2" style="left:25.5px;top:1343.2px;font-size:39px;letter-spacing:1.98px;font-weight:400;">务器和运行服务器，均由我们后台支持，用户不需要购买安装，控制和管理只需要</div>
<div class="t" id="p3" style="left:25.5px;top:1394.3px;font-size:39px;letter-spacing:1.94px;font-weight:400;">在自有的办公电上安装客户端即可，关住了我们提供的公众号后，即可接收到各种</div>
<div class="t" id="p4" style="left:25.5px;top:1445.9px;font-size:39px;letter-spacing:1.98px;font-weight:400;">运行状态的消息推送以及手机控制。平台使用简单，大量节省各种不相关的事务维</div>
<div class="t" id="p5" style="left:25.7px;top:1496.6px;font-size:39px;letter-spacing:1.98px;font-weight:400;">护工作。</div>
</body></html>
